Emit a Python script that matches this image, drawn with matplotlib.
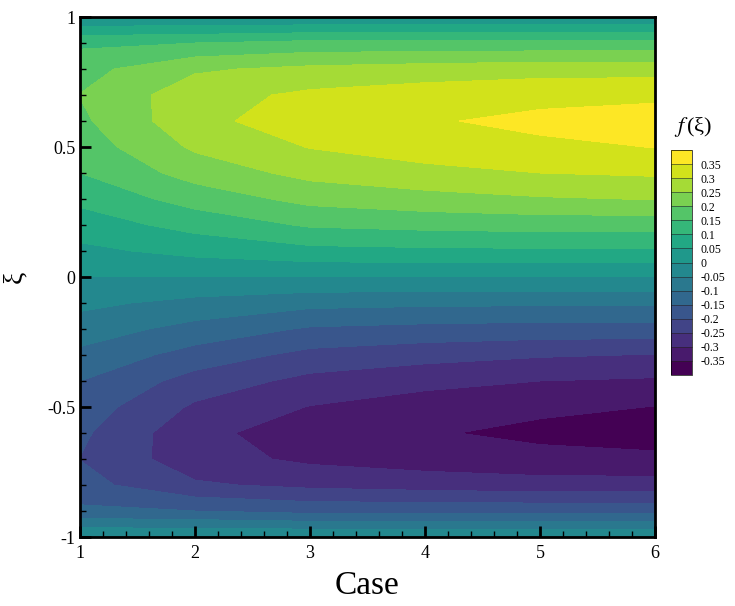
import numpy as np
import matplotlib
matplotlib.use("Agg")
import matplotlib.pyplot as plt
from matplotlib.colors import ListedColormap, BoundaryNorm

plt.rcParams['font.family'] = ['Liberation Serif', 'DejaVu Serif']
plt.rcParams['mathtext.fontset'] = 'stix'

# case number on x, wall-normal coordinate xi on y
cases = [1, 2, 3, 4, 5, 6]
xi = [-1.0, -0.9, -0.8, -0.7, -0.6, -0.5, -0.4, -0.3, -0.2, -0.1, 0.0,
      0.1, 0.2, 0.3, 0.4, 0.5, 0.6, 0.7, 0.8, 0.9, 1.0]

# f(xi) profiles, one list per case (xi from -1 to 1)
f_case1 = [0, -0.140, -0.182, -0.201, -0.190, -0.172, -0.150, -0.112, -0.075, -0.038, 0,
           0.038, 0.075, 0.112, 0.150, 0.172, 0.190, 0.201, 0.182, 0.140, 0]
f_case2 = [0, -0.150, -0.243, -0.280, -0.285, -0.258, -0.220, -0.171, -0.117, -0.065, 0,
           0.065, 0.117, 0.171, 0.220, 0.258, 0.285, 0.280, 0.243, 0.150, 0]
f_case3 = [0, -0.165, -0.262, -0.310, -0.328, -0.302, -0.265, -0.215, -0.156, -0.085, 0,
           0.085, 0.156, 0.215, 0.265, 0.302, 0.328, 0.310, 0.262, 0.165, 0]
f_case4 = [0, -0.165, -0.272, -0.325, -0.345, -0.325, -0.285, -0.232, -0.165, -0.090, 0,
           0.090, 0.165, 0.232, 0.285, 0.325, 0.345, 0.325, 0.272, 0.165, 0]
f_case5 = [0, -0.165, -0.280, -0.335, -0.362, -0.340, -0.300, -0.245, -0.170, -0.092, 0,
           0.092, 0.170, 0.245, 0.300, 0.340, 0.362, 0.335, 0.280, 0.165, 0]
f_case6 = [0, -0.165, -0.280, -0.340, -0.372, -0.351, -0.307, -0.252, -0.170, -0.092, 0,
           0.092, 0.170, 0.252, 0.307, 0.351, 0.372, 0.340, 0.280, 0.165, 0]

levels = [-0.35, -0.3, -0.25, -0.2, -0.15, -0.1, -0.05, 0,
          0.05, 0.1, 0.15, 0.2, 0.25, 0.3, 0.35]
level_labels = ['-0.35', '-0.3', '-0.25', '-0.2', '-0.15', '-0.1', '-0.05', '0',
                '0.05', '0.1', '0.15', '0.2', '0.25', '0.3', '0.35']

Z = np.array([f_case1, f_case2, f_case3, f_case4, f_case5, f_case6]).T

# 16 flat viridis bands like the tecplot legend
cmap = ListedColormap(plt.cm.viridis(np.linspace(0, 1, len(levels) + 1)))
norm = BoundaryNorm(levels, ncolors=cmap.N, extend='both')

fig = plt.figure(figsize=(7.35, 6.06), dpi=100)
ax = fig.add_axes([80 / 735, 69 / 606, 575 / 735, 520 / 606])

cs = ax.contourf(cases, xi, Z, levels=levels, cmap=cmap, norm=norm, extend='both')

ax.set_xlim(1, 6)
ax.set_ylim(-1, 1)
ax.set_xticks([1, 2, 3, 4, 5, 6])
ax.set_xticks(np.arange(1, 6.01, 0.2), minor=True)
ax.set_yticks([-1, -0.5, 0, 0.5, 1])
ax.set_yticklabels(['-1', '-0.5', '0', '0.5', '1'])
ax.set_yticks(np.arange(-1, 1.01, 0.1), minor=True)
ax.tick_params(which='major', direction='in', length=8, width=2, labelsize=13)
ax.tick_params(which='minor', direction='in', length=4, width=1)
ax.tick_params(axis='x', pad=6)
for sp in ax.spines.values():
    sp.set_linewidth(2)

ax.set_xlabel('Case', fontsize=24, labelpad=6)
ax.set_ylabel('ξ', fontsize=20, va='center')
ax.yaxis.set_label_coords(-(80 - 15) / 575, 0.5)

# colour legend
cax = fig.add_axes([671 / 735, (606 - 375) / 606, 21 / 735, 225 / 606])
cb = fig.colorbar(cs, cax=cax, extend='both', extendrect=True, extendfrac='auto',
                  drawedges=True)
cb.outline.set_linewidth(0.5)
cb.dividers.set_linewidth(0.4)
cb.dividers.set_color('#222222')
cb.set_ticks(levels)
cb.set_ticklabels(level_labels)
cb.ax.tick_params(length=0, labelsize=8.5, pad=6)
fig.text(693 / 735, 1 - 127 / 606, r'$f\,$(ξ)', fontsize=16, ha='center', va='center')

fig.savefig('out.png', dpi=100)
